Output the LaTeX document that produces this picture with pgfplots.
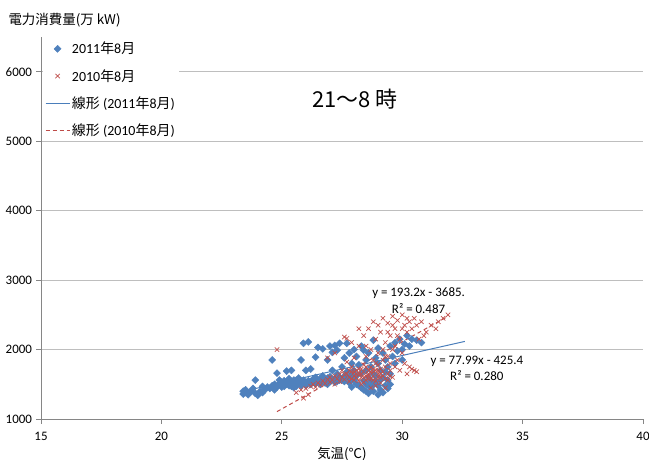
\documentclass[border=0pt]{standalone}
\usepackage{fontspec}
\setmainfont{Carlito}
\newfontfamily\jp{Noto Sans CJK JP}
\usepackage{pgfplots}
\pgfplotsset{compat=1.18}
\definecolor{sblue}{RGB}{79,129,189}
\definecolor{sred}{RGB}{192,80,77}
\definecolor{lblue}{RGB}{74,126,187}
\definecolor{lred}{RGB}{190,75,72}
\definecolor{axgray}{RGB}{134,134,134}
\definecolor{grgray}{RGB}{190,190,190}
\begin{document}
\begin{tikzpicture}
\begin{axis}[
  name=ax, at={(0,0)}, anchor=south west,
  scale only axis, width=602bp, height=382bp,
  xmin=15, xmax=40, ymin=1000, ymax=6500,
  xtick={15,20,25,30,35,40}, ytick={1000,2000,3000,4000,5000,6000},
  axis x line=bottom, axis y line=left,
  axis line style={-, draw=axgray, line width=0.8pt},
  ymajorgrids, grid style={grgray, line width=0.8pt},
  tick align=outside, major tick length=4.5bp,
  tick style={axgray, line width=0.8pt},
  /pgf/number format/assume math mode=true,
  /pgf/number format/1000 sep={},
  ticklabel style={font=\fontsize{13}{15}\selectfont},
  xticklabel style={yshift=-5bp},
  yticklabel style={xshift=-1bp},
  xlabel={{\jp 気温(℃)}},
  xlabel style={font=\fontsize{13.5}{15}\selectfont, yshift=0bp},
  clip=false,
  legend image code/.code={\draw[mark repeat=2,mark phase=2,#1] plot coordinates {(0cm,0cm) (0.42cm,0cm) (0.84cm,0cm)};},
  legend style={at={(0,1)}, anchor=north west, draw=none, fill=white,
    font=\fontsize{14}{16}\selectfont, row sep=10bp, inner sep=2bp,
    cells={anchor=west}, xshift=2bp, yshift=-1bp},
]
\addplot[only marks, mark=square*, mark options={rotate=45}, mark size=2.5bp, color=sblue] coordinates {
(23.4,1400)(23.4,1360)(23.5,1380)(23.5,1420)(23.6,1350)(23.7,1390)(23.8,1440)(23.9,1560)(23.9,1370)(24.0,1340)(24.1,1400)(24.2,1380)(24.3,1420)(24.4,1460)(24.5,1440)(24.6,1850)(24.6,1480)(24.7,1500)(24.8,1660)(24.8,1460)(24.9,1510)(25.0,1490)(25.0,1530)(25.1,1470)(25.1,1550)(25.2,1690)(25.2,1500)(25.3,1520)(25.3,1480)(25.4,1700)(25.4,1540)(25.5,1500)(25.5,1560)(25.6,1520)(25.6,1470)(25.7,1540)(25.7,1590)(25.8,1850)(25.8,1510)(25.9,2090)(25.9,1560)(26.0,1700)(26.0,1530)(26.0,1480)(26.1,2110)(26.1,1550)(26.2,1720)(26.2,1500)(26.3,1570)(26.3,1530)(26.4,1890)(26.4,1600)(26.5,2030)(26.5,1540)(26.6,1580)(26.6,1500)(26.7,2010)(26.7,1620)(26.8,1560)(26.8,1520)(26.9,1850)(26.9,1590)(27.0,2050)(27.0,1610)(27.0,1540)(27.1,1960)(27.1,1700)(27.2,2060)(27.2,1580)(27.3,1990)(27.3,1650)(27.4,2090)(27.4,1600)(27.5,1750)(27.5,1560)(27.6,1880)(27.6,1620)(27.7,2090)(27.7,1680)(27.8,1950)(27.8,1590)(27.9,1800)(27.9,1640)(28.0,2000)(28.0,1700)(28.0,1550)(28.1,1900)(28.1,1620)(28.2,1780)(28.2,1480)(28.3,2050)(28.3,1660)(28.4,1990)(28.4,1550)(28.4,1420)(28.5,1850)(28.5,1700)(28.5,1500)(28.6,1370)(28.6,1600)(28.6,1950)(28.7,1750)(28.7,1450)(28.8,2135)(28.8,1650)(28.8,1400)(28.9,1880)(28.9,1550)(29.0,1800)(29.0,1480)(29.0,2020)(29.1,1700)(29.1,1420)(29.2,1950)(29.2,1600)(29.3,1850)(29.3,1480)(29.4,1750)(29.4,1560)(29.5,2050)(29.5,1650)(29.6,1900)(29.7,2100)(29.7,1800)(29.8,1980)(29.9,2150)(30.0,2000)(30.0,1850)(30.1,2080)(30.2,2200)(30.3,2050)(30.4,2150)(30.6,2135)(30.8,2100)(29.2,1380)(29.4,1440)(25.0,1460)(25.2,1540)(25.4,1470)(25.6,1560)(25.8,1480)(26.0,1510)(26.2,1540)(26.4,1510)(26.6,1530)(26.8,1550)(27.0,1570)(27.2,1530)(27.4,1560)(27.6,1540)(27.8,1520)(28.0,1580)
(28.3,1450)(28.5,1400)(28.7,1550)(28.9,1620)(29.1,1560)(29.3,1680)(29.5,1500)(28.1,1500)(27.9,1460)(28.6,1480)(29.0,1350)(28.8,1500)(24.9,1560)(25.3,1580)(25.5,1450)(24.7,1420)(24.2,1470)(26.9,1500)(27.3,1540)(27.7,1600)
};
\addlegendentry{2011{\jp 年}8{\jp 月}}
\addplot[only marks, mark=x, mark size=3.1bp, color=sred, line width=0.7pt] coordinates {
(24.8,2000)(25.6,1380)(25.8,1420)(25.9,1300)(26.0,1440)(26.1,1350)(26.2,1470)(26.3,1500)(26.4,1460)(26.5,1520)(26.6,1490)(26.7,1550)(26.8,1510)(26.9,1570)(27.0,1530)(27.0,1600)(27.1,1560)(27.2,1620)(27.2,1500)(27.3,1580)(27.4,1640)(27.4,1540)(27.5,1600)(27.5,1700)(27.6,1570)(27.7,1650)(27.7,1820)(27.8,1600)(27.8,1540)(27.9,1680)(27.9,1750)(28.0,1620)(28.0,1560)(28.0,1880)(28.1,1700)(28.1,1600)(28.2,1650)(28.2,1550)(28.2,2050)(28.3,1720)(28.3,1600)(28.3,1500)(28.4,1680)(28.4,1780)(28.4,2200)(28.5,1620)(28.5,1560)(28.5,1900)(28.6,1700)(28.6,1650)(28.6,2300)(28.7,1580)(28.7,1750)(28.7,2000)(28.8,1680)(28.8,1620)(28.8,1850)(28.8,2400)(28.9,1700)(28.9,1550)(28.9,2150)(29.0,1650)(29.0,1780)(29.0,1950)(29.0,2350)(29.1,1600)(29.1,1720)(29.1,2250)(29.2,1680)(29.2,1850)(29.2,2450)(29.3,1750)(29.3,1580)(29.3,2100)(29.4,1650)(29.4,1900)(29.4,2380)(29.5,1800)(29.5,1700)(29.5,2200)(29.6,1600)(29.6,2000)(29.6,2480)(29.7,1750)(29.7,2300)(29.8,1850)(29.8,2420)(29.9,1700)(29.9,2150)(30.0,2500)(30.0,1950)(30.1,2350)(30.1,1800)(30.2,2450)(30.2,2250)(30.3,2400)(30.3,1750)(30.4,2300)(30.5,2450)(30.5,1700)(30.6,2350)(30.7,2150)(30.8,2400)(30.9,2200)(31.0,2250)(31.2,2350)(31.4,2300)(31.5,2400)(31.7,2450)(31.9,2500)(30.2,1650)(30.4,1720)(30.6,1680)(28.4,1600)(28.6,1580)(28.8,1720)(29.0,1600)(29.2,1620)(29.4,1560)(28.2,1720)(28.0,1680)(27.6,1640)(27.8,1700)(28.9,1480)(29.1,1520)(29.3,1450)(28.7,1450)(27.6,2180)(28.2,2300)(27.9,2100)(27.2,1950)(26.9,1880)(27.7,2160)
(28.3,1650)(28.5,1750)(28.7,1680)(28.9,1800)(29.1,1650)(29.3,1900)(29.5,1620)(29.7,2050)(28.4,1530)(28.6,1620)(28.8,1560)(29.0,1700)(29.2,2000)(29.4,2250)(29.6,2350)(29.8,2200)(30.0,2300)(28.1,1650)(27.9,1580)(28.5,2050)
};
\addlegendentry{2010{\jp 年}8{\jp 月}}
\addplot[draw=lblue, line width=1pt, no marks,
  legend image code/.code={\draw[draw=lblue, line width=1pt] (0cm,0cm) -- (0.84cm,0cm);}] coordinates {(23.4,1399.6)(32.6,2117.0)};
\addlegendentry{{\jp 線形} (2011{\jp 年}8{\jp 月})}
\addplot[draw=lred, line width=1pt, dash pattern=on 4bp off 3bp, no marks] coordinates {(24.8,1106.4)(31.9,2478.1)};
\addlegendentry{{\jp 線形} (2010{\jp 年}8{\jp 月})}
\node[font=\fontsize{13}{15}\selectfont] at (axis cs:30.68,2810) {y = 193.2x - 3685.};
\node[font=\fontsize{13}{15}\selectfont] at (axis cs:30.68,2595) {R² = 0.487};
\node[font=\fontsize{13}{15}\selectfont] at (axis cs:33.1,1833) {y = 77.99x - 425.4};
\node[font=\fontsize{13}{15}\selectfont] at (axis cs:33.1,1620) {R² = 0.280};
\node[font=\jp\fontsize{22}{26}\selectfont] at (axis cs:28.03,5612) {21～8 時};
\end{axis}
\node[anchor=west, font=\jp\fontsize{13.5}{15}\selectfont] at ([shift={(-36bp,17bp)}]ax.north west) {電力消費量(万 kW)};
\pgfresetboundingbox
\path ([shift={(-41bp,-41bp)}]ax.south west) rectangle ([shift={(6bp,37bp)}]ax.north east);
\end{tikzpicture}
\end{document}
